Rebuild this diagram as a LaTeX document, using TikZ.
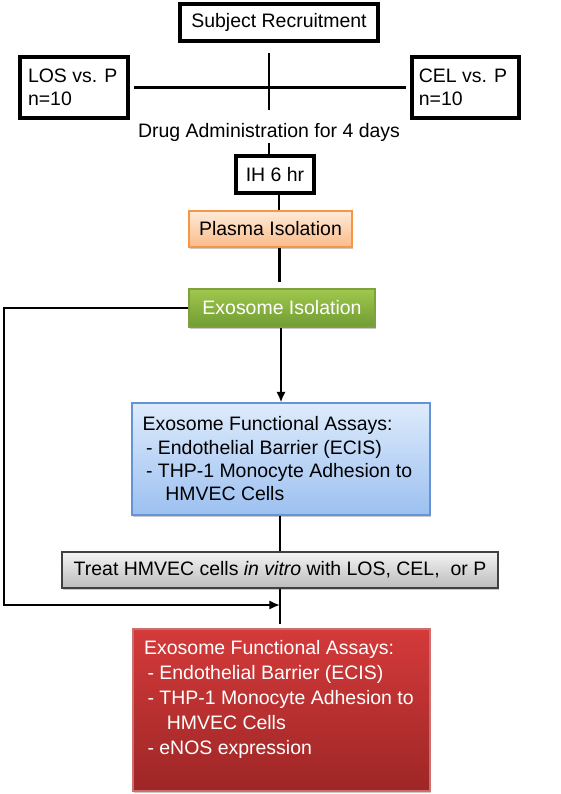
\documentclass[tikz,border=0pt]{standalone}
\usepackage{fontspec}
\setmainfont{Liberation Sans}
\usepackage{tikz}
\usetikzlibrary{calc,arrows.meta,positioning,shadows}

\definecolor{plasmaTop}{RGB}{254,234,216}
\definecolor{plasmaBot}{RGB}{250,188,138}
\definecolor{plasmaLine}{RGB}{247,150,70}
\definecolor{exoTop}{RGB}{160,200,78}
\definecolor{exoBot}{RGB}{112,156,50}
\definecolor{blueTop}{RGB}{222,235,252}
\definecolor{blueBot}{RGB}{156,192,240}
\definecolor{blueLine}{RGB}{100,148,214}
\definecolor{grayTop}{RGB}{243,243,243}
\definecolor{grayBot}{RGB}{188,188,188}
\definecolor{redTop}{RGB}{212,58,58}
\definecolor{redBot}{RGB}{158,38,38}
\definecolor{redLine}{RGB}{205,110,110}

\begin{document}
\begin{tikzpicture}[
    x=0.75pt, y=-0.75pt,
    font=\fontsize{14.6}{17.5}\selectfont,
    >={Latex[length=8pt,width=7pt]},
    wire/.style={line width=2.2pt, black},
    plainbox/.style={draw=black, line width=2.4pt, fill=white, inner sep=0pt},
    softshadow/.style={drop shadow={shadow xshift=0.8pt, shadow yshift=-1.4pt,
        opacity=0.3, fill=black!70}},
    colorbox/.style={softshadow, line width=0.8pt, inner sep=0pt}
]

% =========================================================================
% 1. RECRUITMENT AND GROUPS
% =========================================================================
\useasboundingbox (0,0) rectangle (561,794);

\node[plainbox, minimum width=148.5pt, minimum height=27.75pt] (subj) at (279, 22.5)
    {Subject Recruitment};

\node[plainbox, minimum width=81pt, minimum height=45.75pt, inner xsep=6pt,
      text width=69pt, align=flush left] (los) at (74, 87.5) {LOS vs. P\\n=10};
\node[plainbox, minimum width=80.25pt, minimum height=45.75pt, inner xsep=5pt,
      text width=70pt, align=flush left] (cel) at (465.5, 87.5) {CEL vs. P\\n=10};

\node[inner sep=1.5pt] (drug) at (269, 132) {Drug Administration for 4 days};
\coordinate (junc) at (los.east -| drug);

% Brazo horizontal y troncal
\draw[wire, shorten <=3.5pt, shorten >=3.5pt] (los.east) -- (cel.west);
\draw[wire, shorten <=7.5pt] (junc |- subj.south) -- (junc);
\draw[wire, shorten >=8pt] (junc) -- (drug.north);

\node[plainbox, minimum width=58.5pt, minimum height=27.75pt] (ih) at (275, 174.5)
    {IH 6 hr};
\draw[wire] (drug.south) -- (drug.south |- ih.north);

% =========================================================================
% 2. ISOLATION STEPS
% =========================================================================
\node[colorbox, draw=plasmaLine, top color=plasmaTop, bottom color=plasmaBot,
      minimum width=122.25pt, minimum height=27pt] (plasma) at (270.5, 229)
    {Plasma Isolation};
\draw[wire] ([xshift=3pt]ih.south) -- ([xshift=3pt]ih.south |- plasma.north);

\node[colorbox, draw=exoTop!80!black, top color=exoTop, bottom color=exoBot,
      text=white, minimum width=139.5pt, minimum height=28.5pt] (exo) at (282, 308)
    {Exosome Isolation};
\draw[wire, shorten >=4.5pt] ([xshift=7pt]plasma.south) -- ([xshift=7pt]plasma.south |- exo.north);

% =========================================================================
% 3. FUNCTIONAL ASSAYS
% =========================================================================
\node[colorbox, draw=blueLine, top color=blueTop, bottom color=blueBot,
      minimum width=223.5pt, minimum height=84pt, inner xsep=8pt,
      text width=207.5pt, align=flush left] (assay) at (281, 459)
    {Exosome Functional Assays:\\
     \hspace*{2.5pt}- Endothelial Barrier (ECIS)\\
     \hspace*{2.5pt}- THP-1 Monocyte Adhesion to\\
     \hspace*{17pt}HMVEC Cells};
\draw[wire, ->] (exo.south -| assay.north) -- (assay.north);

\node[colorbox, draw=black!75, top color=grayTop, bottom color=grayBot,
      minimum width=327pt, minimum height=27pt] (treat) at (280, 570)
    {Treat HMVEC cells \textit{in vitro} with LOS, CEL,\ \ or P};
\draw[wire] (assay.south -| treat.north) -- (treat.north);

\node[colorbox, draw=redLine, top color=redTop, bottom color=redBot,
      text=white, inner sep=8pt, minimum width=222.75pt, minimum height=121.5pt]
      (final) at (281.5, 710)
    {\parbox[c][105pt][t]{206pt}{\fontsize{14.6}{18.8}\selectfont
     Exosome Functional Assays:\\
     \hspace*{2.5pt}- Endothelial Barrier (ECIS)\\
     \hspace*{2.5pt}- THP-1 Monocyte Adhesion to\\
     \hspace*{17pt}HMVEC Cells\\
     \hspace*{2.5pt}- eNOS expression}};
\draw[wire, shorten >=3pt] (treat.south) -- (treat.south |- final.north);

% Retorno desde Exosome Isolation
\coordinate (tap) at (treat.south |- 0, 605);
\coordinate (back) at (4, 605);
\draw[wire, ->] (exo.west) -| (back) -- (tap);

\end{tikzpicture}
\end{document}
